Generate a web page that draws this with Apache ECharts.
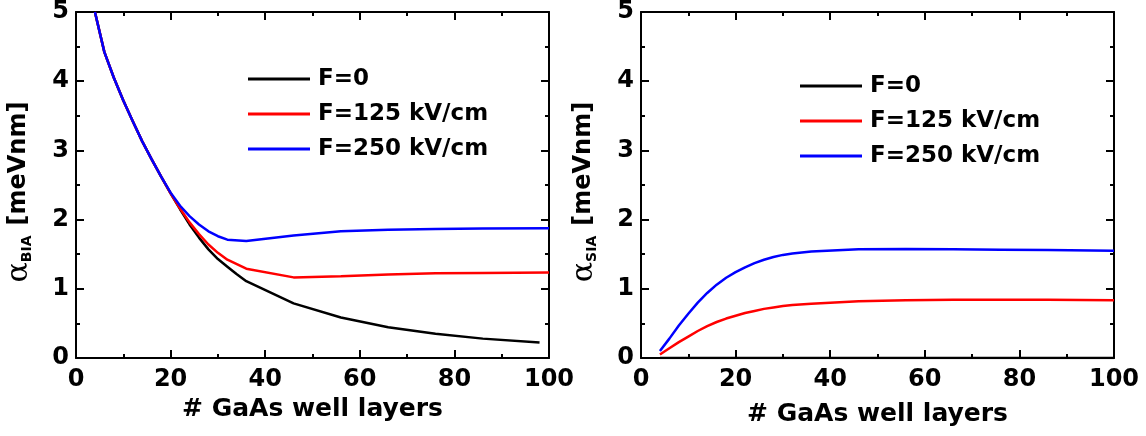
<!DOCTYPE html>
<html>
<head>
<meta charset="utf-8">
<script src="https://cdn.jsdelivr.net/npm/echarts@6/dist/echarts.min.js"></script>
<style>
html,body{margin:0;padding:0;background:#fff;}
#chart{width:1146px;height:436px;}
</style>
</head>
<body>
<div id="chart"></div>
<script>
// ---- data ----
const seriesNames = ['F=0', 'F=125 kV/cm', 'F=250 kV/cm'];
const seriesColors = ['#000000', '#ff0000', '#0000ff'];
const xTicks = [0, 20, 40, 60, 80, 100];
const yTicks = [0, 1, 2, 3, 4, 5];

// left panel (BIA)
const xBIA0 = [4, 6, 8, 10, 12, 14, 16, 18, 20, 22, 24, 26, 28, 30, 32, 34, 36, 46, 56, 66, 76, 86, 98];
const bia0 = [5.00, 4.42, 4.05, 3.72, 3.42, 3.13, 2.87, 2.62, 2.38, 2.15, 1.93, 1.74, 1.57, 1.43, 1.32, 1.21, 1.11, 0.79, 0.585, 0.445, 0.35, 0.28, 0.225];
const xBIA = [4, 6, 8, 10, 12, 14, 16, 18, 20, 22, 24, 26, 28, 30, 32, 36, 46, 56, 66, 76, 86, 100];
const bia125 = [5.00, 4.42, 4.05, 3.72, 3.42, 3.13, 2.87, 2.62, 2.38, 2.16, 1.96, 1.79, 1.64, 1.52, 1.42, 1.29, 1.165, 1.18, 1.205, 1.225, 1.23, 1.235];
const bia250 = [5.00, 4.42, 4.05, 3.72, 3.42, 3.13, 2.87, 2.62, 2.39, 2.20, 2.05, 1.93, 1.83, 1.76, 1.71, 1.69, 1.77, 1.83, 1.855, 1.865, 1.87, 1.875];

// right panel (SIA)
const xSIA = [4, 6, 8, 10, 12, 14, 16, 18, 20, 22, 24, 26, 28, 30, 32, 36, 46, 56, 66, 76, 86, 100];
const sia0 = [0, 0, 0, 0, 0, 0, 0, 0, 0, 0, 0, 0, 0, 0, 0, 0, 0, 0, 0, 0, 0, 0];
const sia125 = [0.05, 0.14, 0.23, 0.31, 0.39, 0.46, 0.52, 0.57, 0.61, 0.65, 0.68, 0.71, 0.73, 0.75, 0.765, 0.785, 0.82, 0.835, 0.84, 0.84, 0.84, 0.835];
const sia250 = [0.10, 0.28, 0.47, 0.64, 0.80, 0.94, 1.06, 1.16, 1.24, 1.31, 1.37, 1.42, 1.46, 1.49, 1.51, 1.54, 1.57, 1.575, 1.57, 1.565, 1.56, 1.55];

const xTitle = '# GaAs well layers';
const yUnit = '[meVnm]';

// ---- build ----
const pairs = (xs, ys) => xs.map((x, i) => [x, ys[i]]);
const FONT = 'DejaVu Sans';

const lineCommon = {color: '#000', width: 2};
function xAxisDef(grid, pos, showLabel, nameGap) {
  return {
    type: 'value', gridIndex: grid, position: pos,
    min: xTicks[0], max: xTicks[xTicks.length - 1], interval: xTicks[1] - xTicks[0],
    axisLine: {show: true, onZero: false, lineStyle: lineCommon},
    axisTick: {show: true, inside: true, length: 8, lineStyle: lineCommon},
    minorTick: {show: true, splitNumber: 2, length: 4, lineStyle: lineCommon},
    splitLine: {show: false}, minorSplitLine: {show: false},
    axisLabel: {show: showLabel, margin: 10, color: '#000', fontFamily: FONT, fontWeight: 'bold', fontSize: 24},
    name: showLabel ? xTitle : '', nameLocation: 'middle', nameGap: nameGap,
    nameTextStyle: {color: '#000', fontFamily: FONT, fontWeight: 'bold', fontSize: 25}
  };
}
function yAxisDef(grid, pos, showLabel, sub) {
  return {
    type: 'value', gridIndex: grid, position: pos,
    min: yTicks[0], max: yTicks[yTicks.length - 1], interval: yTicks[1] - yTicks[0],
    axisLine: {show: true, onZero: false, lineStyle: lineCommon},
    axisTick: {show: true, inside: true, length: 8, lineStyle: lineCommon},
    minorTick: {show: true, splitNumber: 2, length: 4, lineStyle: lineCommon},
    splitLine: {show: false}, minorSplitLine: {show: false},
    axisLabel: {show: showLabel, margin: 7, color: '#000', fontFamily: FONT, fontWeight: 'bold', fontSize: 24},
    name: showLabel ? '{a|α}{s|' + sub + '}{b|' + yUnit + '}' : '',
    nameLocation: 'middle', nameGap: 42,
    nameTextStyle: {
      color: '#000', padding: [0, 14, 0, 0],
      rich: {
        a: {fontFamily: 'DejaVu Serif', fontSize: 30, color: '#000', verticalAlign: 'middle'},
        s: {fontFamily: FONT, fontWeight: 'bold', fontSize: 14, color: '#000', verticalAlign: 'bottom', padding: [8, 10, 0, 0]},
        b: {fontFamily: FONT, fontWeight: 'bold', fontSize: 24, color: '#000', verticalAlign: 'middle'}
      }
    }
  };
}
function series(name, color, xi, yi, data) {
  return {
    type: 'line', name: name, xAxisIndex: xi, yAxisIndex: yi,
    data: data, symbol: 'none', showSymbol: false, smooth: false,
    lineStyle: {color: color, width: 2.5}, itemStyle: {color: color},
    z: 3
  };
}
function legendDef(left, top) {
  return {
    data: seriesNames, orient: 'vertical', left: left, top: top,
    icon: 'rect', itemWidth: 62, itemHeight: 3, itemGap: 11,
    selectedMode: false,
    textStyle: {color: '#000', fontFamily: FONT, fontWeight: 'bold', fontSize: 23, lineHeight: 24, padding: [0, 0, 0, 3]}
  };
}

const option = {
  animation: false,
  backgroundColor: '#fff',
  grid: [
    {left: 76, top: 11, width: 473, height: 347},
    {left: 641, top: 11, width: 473, height: 347}
  ],
  xAxis: [
    xAxisDef(0, 'bottom', true, 36), xAxisDef(0, 'top', false, 0),
    xAxisDef(1, 'bottom', true, 44), xAxisDef(1, 'top', false, 0)
  ],
  yAxis: [
    yAxisDef(0, 'left', true, 'BIA'), yAxisDef(0, 'right', false, ''),
    yAxisDef(1, 'left', true, 'SIA'), yAxisDef(1, 'right', false, '')
  ],
  legend: [legendDef(243, 62), legendDef(795, 69)],
  series: [
    series(seriesNames[0], seriesColors[0], 0, 0, pairs(xBIA0, bia0)),
    series(seriesNames[1], seriesColors[1], 0, 0, pairs(xBIA, bia125)),
    series(seriesNames[2], seriesColors[2], 0, 0, pairs(xBIA, bia250)),
    series(seriesNames[0], seriesColors[0], 2, 2, pairs(xSIA, sia0)),
    series(seriesNames[1], seriesColors[1], 2, 2, pairs(xSIA, sia125)),
    series(seriesNames[2], seriesColors[2], 2, 2, pairs(xSIA, sia250))
  ]
};
const chart = echarts.init(document.getElementById('chart'), null, {renderer: 'canvas'});
chart.setOption(option);
</script>
</body>
</html>
